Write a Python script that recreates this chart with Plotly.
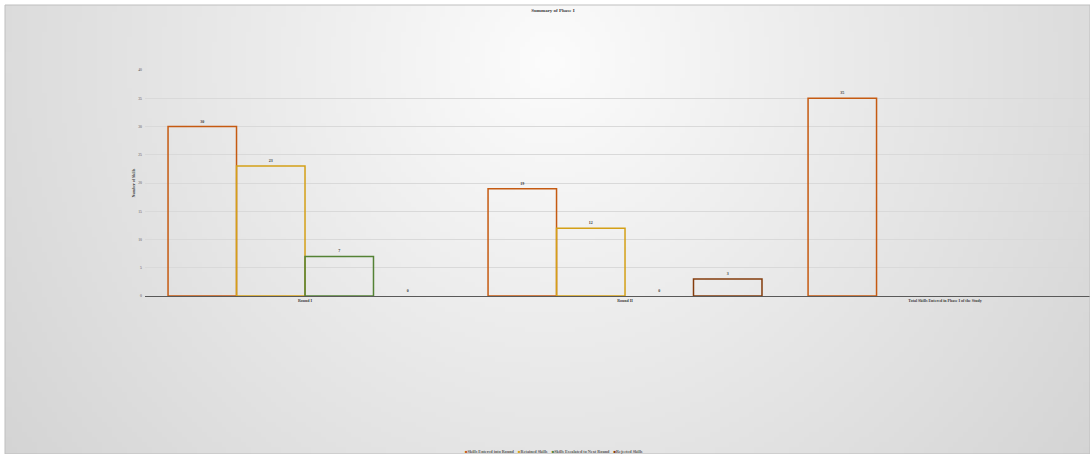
import base64, struct, zlib, math
import plotly.graph_objects as go

categories = ["Round I", "Round II", "Total Skills Entered in Phase I of the Study"]
series_names = ["Skills Entered into Round", "Retained Skills",
                "Skills Escalated to Next Round", "Rejected Skills"]
entered = [30, 19, 35]
retained = [23, 12, None]
escalated = [7, 0, None]
rejected = [0, 3, None]
series_values = [entered, retained, escalated, rejected]
series_colors = ["#c55a11", "#d4a017", "#548235", "#843c0c"]
y_ticks = [0, 5, 10, 15, 20, 25, 30, 35, 40]


def gradient_png(w, h):
    rows = []
    cx, cy = w * 0.5, h * 0.12
    rmax = math.hypot(w * 0.55, h * 1.0)
    for j in range(h):
        row = bytearray([0])
        for i in range(w):
            d = min(1.0, math.hypot(i - cx, (j - cy) * 1.0) / rmax)
            v = int(252 - (252 - 208) * d)
            row += bytes([v, v, v])
        rows.append(bytes(row))
    raw = b"".join(rows)

    def chunk(t, data):
        c = struct.pack(">I", len(data)) + t + data
        return c + struct.pack(">I", zlib.crc32(t + data) & 0xffffffff)

    png = b"\x89PNG\r\n\x1a\n"
    png += chunk(b"IHDR", struct.pack(">IIBBBBB", w, h, 8, 2, 0, 0, 0))
    png += chunk(b"IDAT", zlib.compress(raw, 9))
    png += chunk(b"IEND", b"")
    return "data:image/png;base64," + base64.b64encode(png).decode()


FONT = "Liberation Serif"
fig = go.Figure()
for name, vals, col in zip(series_names, series_values, series_colors):
    fig.add_trace(go.Bar(
        x=categories, y=vals, name=name, showlegend=False,
        marker=dict(color="rgba(0,0,0,0)",
                    line=dict(color=col, width=[0 if not v else 1.5 for v in vals])),
        text=[("" if v is None else "<b>%d</b>" % v) for v in vals],
        textposition="outside", cliponaxis=False,
        textfont=dict(size=4, color="#404040", family=FONT),
    ))

legend_text = "&nbsp;&nbsp;&nbsp;&nbsp;".join(
    "<span style='color:%s'>■</span><b>%s</b>" % (c, n)
    for n, c in zip(series_names, series_colors))

W, H = 1090, 454
PH = H - 70 - 158
PW = W - 145
fig.update_layout(
    width=W, height=H,
    margin=dict(l=145, r=0, t=70, b=158),
    paper_bgcolor="white", plot_bgcolor="rgba(0,0,0,0)",
    barmode="group", bargap=0.144, bargroupgap=0,
    font=dict(family=FONT, size=4, color="#595959"),
    title=dict(text="<b>Summary of Phase I</b>", x=553 / W, xanchor="center",
               y=1 - 10 / H, yanchor="middle",
               font=dict(size=5, color="#404040", family=FONT)),
    showlegend=False,
    annotations=[dict(text=legend_text, xref="paper", yref="paper",
                      x=(554 - 145) / PW, y=-(451 - 296) / PH,
                      xanchor="center", yanchor="middle", showarrow=False,
                      font=dict(size=4.2, color="#595959", family=FONT))],
    images=[dict(source=gradient_png(218, 90), xref="paper", yref="paper",
                 x=-140 / PW, y=1 + 65 / PH, sizex=(W - 5) / PW,
                 sizey=(H - 5) / PH, xanchor="left", yanchor="top",
                 sizing="stretch", layer="below")],
    shapes=[dict(type="rect", xref="paper", yref="paper",
                 x0=-140 / PW, x1=1, y0=1 + 65 / PH, y1=-158 / PH + 0.0001,
                 line=dict(color="#bfbfbf", width=1), fillcolor="rgba(0,0,0,0)",
                 layer="above")],
)
fig.update_xaxes(range=[-0.5, 2.453], showline=True, linecolor="#595959",
                 linewidth=1, ticks="", showgrid=False, layer="above traces",
                 tickprefix="<b>", ticksuffix="</b>",
                 tickfont=dict(size=4, color="#404040", family=FONT))
fig.update_yaxes(range=[0, 40], tickvals=y_ticks, showgrid=True,
                 gridcolor="#d9d9d9", gridwidth=1, zeroline=False, showline=False,
                 title=dict(text="<b>Number of Skills</b>", standoff=2,
                            font=dict(size=4, color="#404040", family=FONT)),
                 tickprefix="<b>", ticksuffix="</b>",
                 tickfont=dict(size=3.8, color="#595959", family=FONT),
                 ticklabelstandoff=2)
fig.write_html("out.html")
